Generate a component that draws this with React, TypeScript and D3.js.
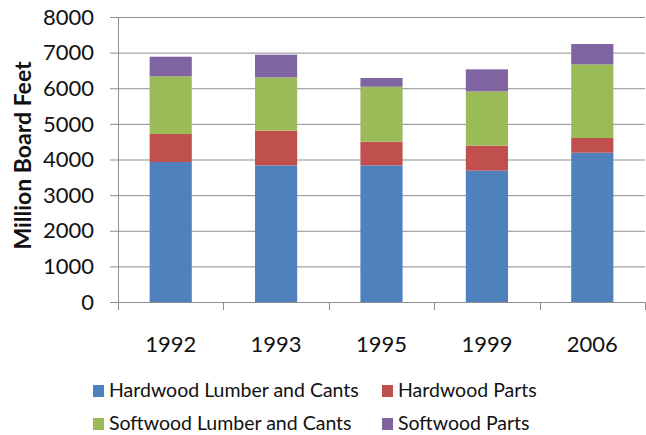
import React, { useEffect, useRef } from "react";
import * as d3 from "d3";

const years = ["1992", "1993", "1995", "1999", "2006"];
const seriesNames = [
  "Hardwood Lumber and Cants",
  "Hardwood Parts",
  "Softwood Lumber and Cants",
  "Softwood Parts",
];
const hardwoodLumber = [3930, 3835, 3835, 3686, 4190];
const hardwoodParts = [785, 973, 665, 701, 413];
const softwoodLumber = [1620, 1498, 1543, 1526, 2068];
const softwoodParts = [550, 636, 244, 618, 570];
const yTicks = [0, 1000, 2000, 3000, 4000, 5000, 6000, 7000, 8000];
const colors = ["#4F81BD", "#C0504D", "#9BBB59", "#8064A2"];

const App: React.FC = () => {
  const svgRef = useRef<SVGSVGElement>(null);
  const width = 646;
  const height = 435;
  const margin = { top: 17, right: 1, bottom: 133, left: 118 };
  const font = "Lato, 'Open Sans', sans-serif";

  useEffect(() => {
    const svg = d3.select(svgRef.current);
    svg.selectAll("*").remove();

    const rows = years.map((year, i) => ({
      year,
      "Hardwood Lumber and Cants": hardwoodLumber[i],
      "Hardwood Parts": hardwoodParts[i],
      "Softwood Lumber and Cants": softwoodLumber[i],
      "Softwood Parts": softwoodParts[i],
    }));
    const stacked = d3.stack<any>().keys(seriesNames)(rows);

    const x = d3.scaleBand().domain(years)
      .range([margin.left, width - margin.right])
      .paddingInner(0.6).paddingOuter(0.3);
    const xOuter = d3.scaleLinear().domain([0, years.length])
      .range([margin.left, width - margin.right]);
    const y = d3.scaleLinear().domain([0, 8000])
      .range([height - margin.bottom, margin.top]);

    // gridlines (extend left as tick marks)
    svg.append("g")
      .selectAll("line")
      .data(yTicks)
      .enter()
      .append("line")
      .attr("x1", margin.left - 8)
      .attr("x2", width - margin.right)
      .attr("y1", (d) => y(d) + 0.5)
      .attr("y2", (d) => y(d) + 0.5)
      .attr("stroke", "#8e8e8e")
      .attr("stroke-width", 1);

    // y axis line
    svg.append("line")
      .attr("x1", margin.left + 0.5)
      .attr("x2", margin.left + 0.5)
      .attr("y1", y(8000))
      .attr("y2", y(0))
      .attr("stroke", "#8e8e8e");

    // category ticks
    svg.append("g")
      .selectAll("line")
      .data(d3.range(years.length + 1))
      .enter()
      .append("line")
      .attr("x1", (d) => Math.round(xOuter(d)) + 0.5)
      .attr("x2", (d) => Math.round(xOuter(d)) + 0.5)
      .attr("y1", y(0))
      .attr("y2", y(0) + 8)
      .attr("stroke", "#8e8e8e");

    // bars
    svg.append("g")
      .selectAll("g")
      .data(stacked)
      .enter()
      .append("g")
      .attr("fill", (_d, i) => colors[i])
      .selectAll("rect")
      .data((d) => d)
      .enter()
      .append("rect")
      .attr("x", (d: any) => x(d.data.year)!)
      .attr("width", x.bandwidth())
      .attr("y", (d) => y(d[1]))
      .attr("height", (d) => y(d[0]) - y(d[1]));

    // y tick labels
    svg.append("g")
      .selectAll("text")
      .data(yTicks)
      .enter()
      .append("text")
      .attr("x", 94)
      .attr("y", (d) => y(d))
      .attr("dy", "0.35em")
      .attr("text-anchor", "end")
      .attr("font-family", font)
      .attr("font-size", 22)
      .attr("fill", "#111")
      .text((d) => d);

    // x labels
    svg.append("g")
      .selectAll("text")
      .data(years)
      .enter()
      .append("text")
      .attr("x", (d) => x(d)! + x.bandwidth() / 2)
      .attr("y", 352)
      .attr("text-anchor", "middle")
      .attr("font-family", font)
      .attr("font-size", 22)
      .attr("fill", "#111")
      .text((d) => d);

    // y axis title
    svg.append("text")
      .attr("transform", `translate(31,${(y(0) + y(8000)) / 2 - 4}) rotate(-90)`)
      .attr("text-anchor", "middle")
      .attr("font-family", font)
      .attr("font-size", 23)
      .attr("font-weight", "bold")
      .attr("fill", "#111")
      .text("Million Board Feet");

    // legend
    const legendPos = [
      { x: 93, y: 397 },
      { x: 382, y: 397 },
      { x: 93, y: 430 },
      { x: 382, y: 430 },
    ];
    const legend = svg.append("g")
      .selectAll("g")
      .data(seriesNames)
      .enter()
      .append("g")
      .attr("transform", (_d, i) => `translate(${legendPos[i].x},${legendPos[i].y})`);
    legend.append("rect")
      .attr("x", 0)
      .attr("y", -12)
      .attr("width", 11)
      .attr("height", 12)
      .attr("fill", (_d, i) => colors[i]);
    legend.append("text")
      .attr("x", 16)
      .attr("y", 0)
      .attr("font-family", font)
      .attr("font-size", 19.5)
      .attr("fill", "#111")
      .text((d) => d);
  }, []);

  return (
    <svg
      ref={svgRef}
      width={width}
      height={height}
      style={{ position: "absolute", left: 0, top: 0, background: "#fff" }}
    ></svg>
  );
};

export default App;
